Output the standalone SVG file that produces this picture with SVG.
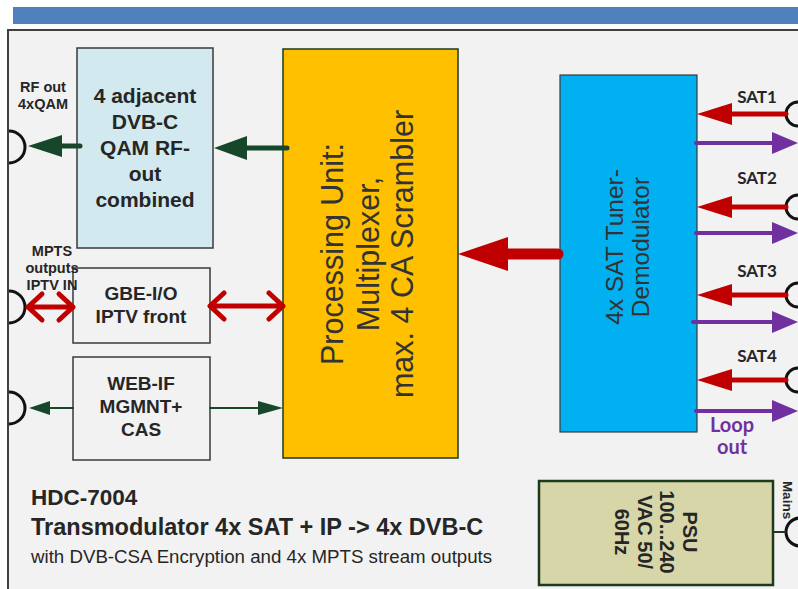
<svg xmlns="http://www.w3.org/2000/svg" width="798" height="589" viewBox="0 0 798 589">
<style>
.box{stroke:#3a3a3a;stroke-width:1.5}
.t{font-family:"Liberation Sans",Arial,sans-serif;font-weight:bold;fill:#262626;text-anchor:middle}
.tr{font-family:"Liberation Sans",Arial,sans-serif;fill:#333333;text-anchor:middle}
.sat{font-family:Lato,"Liberation Sans",sans-serif;font-weight:bold;font-size:17px;fill:#262626;text-anchor:middle}
.conn{fill:none;stroke:#111;stroke-width:3}
.g{stroke:#17472a;fill:none;stroke-linecap:round}
.gh{fill:#17472a}
.r{stroke:#c00000;fill:none;stroke-linecap:round;stroke-linejoin:round}
.rh{fill:#c00000}
.p{stroke:#7030a0;fill:none;stroke-linecap:round;stroke-width:4}
.ph{fill:#7030a0}
</style>
<rect width="798" height="589" fill="#ffffff"/>
<rect x="13" y="7" width="790" height="17" fill="#4f81bd"/>
<rect id="panel" x="8" y="30" width="800" height="570" fill="#f2f2f2" stroke="#404040" stroke-width="2"/>

<g id="ports">
<path class="conn" d="M9,131 A16,16 0 0 1 9,163"/>
<path class="conn" d="M9,291 A16,16 0 0 1 9,323"/>
<path class="conn" d="M9,392 A16,16 0 0 1 9,424"/>
<path class="conn" d="M798,102 A12,12 0 0 0 798,126"/>
<path class="conn" d="M798,195 A12,12 0 0 0 798,219"/>
<path class="conn" d="M798,283 A12,12 0 0 0 798,307"/>
<path class="conn" d="M798,368 A12,12 0 0 0 798,392"/>
<path class="conn" d="M800,518 A14,14 0 0 0 800,546"/>
</g>

<g id="dvbc">
<rect class="box" x="77" y="48" width="136" height="200" fill="#d2e9f0"/>
<text class="t" font-size="21" x="145" y="103">4 adjacent</text>
<text class="t" font-size="21" x="145" y="129">DVB-C</text>
<text class="t" font-size="21" x="145" y="155">QAM RF-</text>
<text class="t" font-size="21" x="145" y="181">out</text>
<text class="t" font-size="21" x="145" y="207">combined</text>
</g>

<g id="gbe">
<rect class="box" x="73" y="268" width="137" height="75" fill="#f2f2f2"/>
<text class="t" font-size="19" x="141" y="300">GBE-I/O</text>
<text class="t" font-size="19" x="141" y="323">IPTV front</text>
</g>

<g id="webif">
<rect class="box" x="73" y="357" width="137" height="103" fill="#f2f2f2"/>
<text class="t" font-size="19" x="141" y="390">WEB-IF</text>
<text class="t" font-size="19" x="141" y="413">MGMNT+</text>
<text class="t" font-size="19" x="141" y="436">CAS</text>
</g>

<g id="processing">
<rect x="283" y="49" width="175" height="409" fill="#ffc000" stroke="#1e3a1e" stroke-width="1.5"/>
<g transform="translate(370,254) rotate(-90)">
<text class="tr" font-size="30.5" x="0" y="-27">Processing Unit:</text>
<text class="tr" font-size="30.5" x="0" y="9">Multiplexer,</text>
<text class="tr" font-size="30.5" x="0" y="43">max. 4 CA Scrambler</text>
</g>
</g>

<g id="tuner">
<rect x="560" y="75" width="137" height="357" fill="#00b0f0" stroke="#3a3a3a" stroke-width="1.2"/>
<g transform="translate(636,247) rotate(-90)">
<text class="tr" font-size="24.5" x="0" y="-13">4x SAT Tuner-</text>
<text class="tr" font-size="24.5" x="0" y="13">Demodulator</text>
</g>
</g>

<g id="psu">
<rect x="539" y="481" width="234" height="104" fill="#d6d6a8" stroke="#1e3a1e" stroke-width="2.5"/>
<g transform="translate(650,532) rotate(90)">
<text class="t" font-size="20" x="0" y="-33">PSU</text>
<text class="t" font-size="20" x="0" y="-10">100...240</text>
<text class="t" font-size="20" x="0" y="12">VAC 50/</text>
<text class="t" font-size="20" x="0" y="35">60Hz</text>
</g>
</g>

<g id="labels">
<text class="t" font-size="14.5" x="43" y="92">RF out</text>
<text class="t" font-size="14.5" x="43" y="109">4xQAM</text>
<text class="t" font-size="14.5" x="52" y="256">MPTS</text>
<text class="t" font-size="14.5" x="52" y="273">outputs</text>
<text class="t" font-size="14.5" x="52" y="290">IPTV IN</text>
<text class="sat" x="757" y="103">SAT1</text>
<text class="sat" x="757" y="184">SAT2</text>
<text class="sat" x="757" y="277">SAT3</text>
<text class="sat" x="757" y="362">SAT4</text>
<text font-family="Lato,'Liberation Sans',sans-serif" font-weight="bold" font-size="20" fill="#7030a0" text-anchor="middle" x="732" y="432">Loop</text>
<text font-family="Lato,'Liberation Sans',sans-serif" font-weight="bold" font-size="20" fill="#7030a0" text-anchor="middle" x="732" y="454">out</text>
<text class="t" font-size="13.5" transform="translate(783,500) rotate(90)" x="0" y="0">Mains</text>
<text font-family="'Liberation Sans',Arial,sans-serif" font-weight="bold" font-size="22.5" fill="#262626" x="31" y="505">HDC-7004</text>
<text font-family="'Liberation Sans',Arial,sans-serif" font-weight="bold" font-size="23.5" fill="#262626" x="31" y="535">Transmodulator 4x SAT + IP -&gt; 4x DVB-C</text>
<text font-family="'Liberation Sans',Arial,sans-serif" font-size="18.7" fill="#262626" x="31" y="563">with DVB-CSA Encryption and 4x MPTS stream outputs</text>
</g>

<g id="connectors">
<path class="g" stroke-width="5" d="M80,146 H58"/>
<polygon class="gh" points="28,146 62,135 62,157"/>
<path class="g" stroke-width="5" d="M287,148 H243"/>
<polygon class="gh" points="214,148 247,136 247,160"/>
<path class="r" stroke-width="5" d="M28,307 H73 M42,294 L28,307 L42,320 M59,294 L73,307 L59,320"/>
<path class="r" stroke-width="5" d="M210,306 H283 M224,293 L210,306 L224,319 M269,293 L283,306 L269,319"/>
<path class="g" stroke-width="2" d="M73,408 H46"/>
<polygon class="gh" points="29,408 50,401 50,415"/>
<path class="g" stroke-width="2" d="M210,408 H262"/>
<polygon class="gh" points="283,408 258,401 258,415"/>
<path class="r" stroke-width="11" d="M506,254 H558"/>
<polygon class="rh" points="458,254 508,237 508,271"/>
<path class="r" stroke-width="5" d="M786,114 H728"/>
<polygon class="rh" points="697,114 732,103 732,125"/>
<path class="r" stroke-width="5" d="M786,207 H728"/>
<polygon class="rh" points="697,207 732,196 732,218"/>
<path class="r" stroke-width="5" d="M786,295 H728"/>
<polygon class="rh" points="697,295 732,284 732,306"/>
<path class="r" stroke-width="5" d="M786,380 H728"/>
<polygon class="rh" points="697,380 732,369 732,391"/>
<path class="p" d="M696,143 H775"/>
<polygon class="ph" points="798,143 772,132 772,154"/>
<path class="p" d="M696,233 H775"/>
<polygon class="ph" points="798,233 772,222 772,244"/>
<path class="p" d="M693,322 H775"/>
<polygon class="ph" points="798,322 772,311 772,333"/>
<path class="p" d="M696,411 H775"/>
<polygon class="ph" points="798,411 772,400 772,422"/>
<path stroke="#1e3a1e" stroke-width="2" d="M773,532 H786"/>
</g>
</svg>
